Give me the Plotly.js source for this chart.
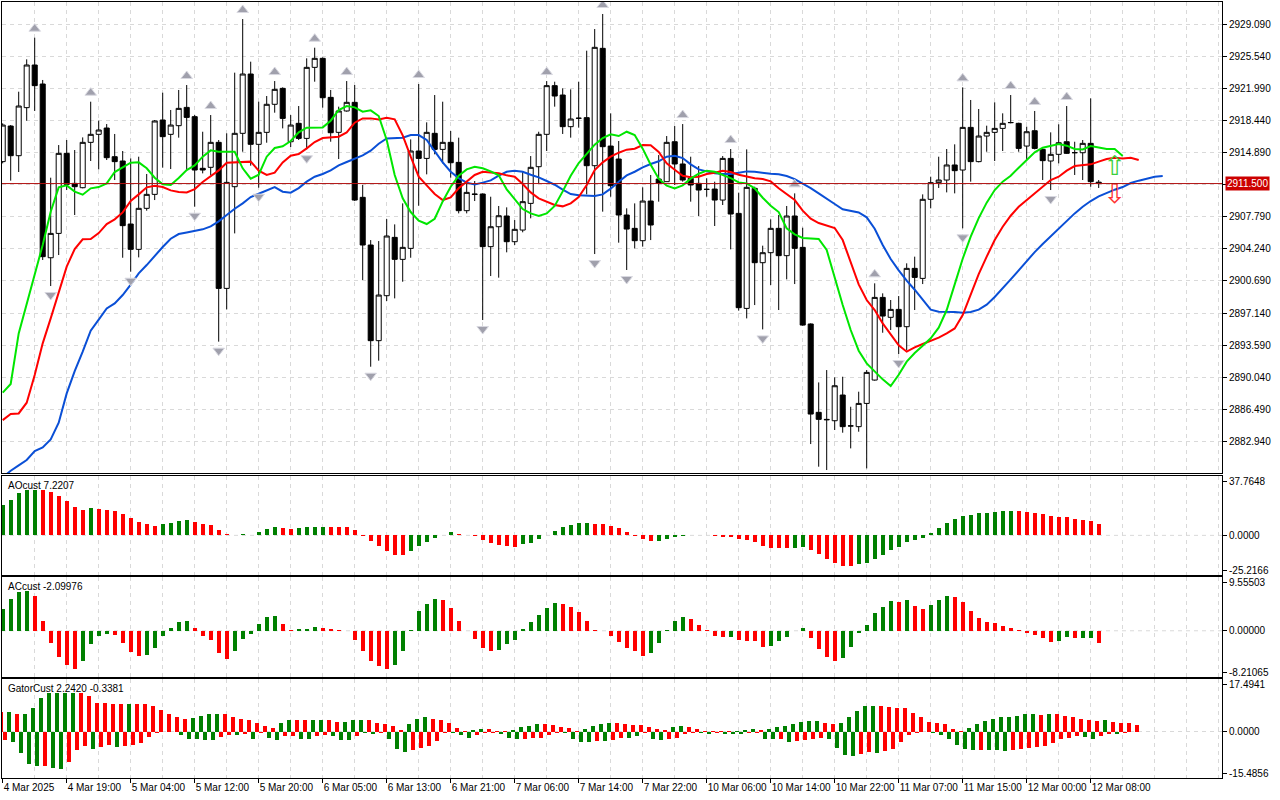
<!DOCTYPE html>
<html><head><meta charset="utf-8">
<script src="https://cdn.plot.ly/plotly-3.0.1.min.js"></script>
<style>html,body{margin:0;padding:0;background:#fff;}#chart{width:1280px;height:800px;}</style>
</head><body><div id="chart"></div>
<script>
// ---------------- DATA (XAUUSD H1) ----------------
const openP = [
2913.93,2917.88,2914.59,2919.92,2924.65,2922.54,2903.27,2905.97,2914.85,2911.52,
2911.04,2916.07,2916.96,2917.66,2914.48,2914.00,2907.01,2904.20,2908.75,2910.30,
2918.55,2916.96,2917.92,2919.95,2918.92,2913.19,2913.30,2916.07,2899.87,2911.15,
2917.07,2923.65,2915.85,2917.18,2920.29,2922.06,2916.14,2918.18,2916.51,2924.39,
2925.39,2921.06,2917.18,2919.55,2920.51,2909.97,2904.68,2894.07,2899.06,2905.53,
2903.09,2904.31,2915.11,2914.29,2917.07,2915.29,2916.07,2913.85,2908.49,2910.34,
2910.34,2904.50,2906.71,2907.90,2905.05,2906.34,2909.30,2913.37,2916.96,2922.36,
2921.32,2917.81,2918.73,2918.81,2913.48,2926.50,2915.66,2914.22,2908.01,2906.53,
2905.16,2909.56,2912.00,2911.71,2916.14,2913.67,2912.08,2911.52,2910.85,2910.89,
2909.67,2914.29,2908.19,2897.65,2910.97,2902.72,2903.83,2906.53,2903.50,2907.90,
2904.42,2895.92,2886.12,2885.34,2885.19,2888.04,2884.60,2884.53,2887.11,2889.70,
2898.87,2896.66,2897.54,2895.62,2902.09,2900.98,2909.75,2911.60,2911.89,2913.56,
2913.00,2917.73,2913.93,2916.77,2917.18,2917.62,2918.25,2918.18,2915.66,2917.36,
2915.29,2914.00,2914.74,2916.14,2914.92,2914.92,2915.96,2911.65];
const highP = [
2918.18,2917.99,2921.69,2925.28,2927.68,2922.99,2912.15,2915.77,2916.33,2915.22,
2916.62,2920.58,2918.47,2918.10,2917.00,2915.11,2914.29,2914.48,2912.56,2918.55,
2921.58,2919.66,2921.88,2922.43,2919.10,2917.25,2919.10,2916.33,2917.07,2923.80,
2929.75,2925.02,2920.58,2921.21,2922.87,2922.17,2919.10,2920.10,2925.39,2926.57,
2925.50,2921.88,2920.03,2922.87,2922.43,2911.34,2905.23,2905.12,2907.56,2906.97,
2909.30,2916.40,2922.54,2918.29,2921.32,2920.58,2917.33,2916.59,2911.60,2911.78,
2910.41,2910.04,2909.01,2908.86,2907.45,2912.89,2914.55,2917.25,2922.87,2922.80,
2922.06,2921.95,2922.80,2926.24,2928.64,2930.31,2919.29,2916.22,2908.75,2909.30,
2911.08,2912.45,2914.66,2916.77,2917.88,2918.10,2914.48,2913.44,2912.08,2911.71,
2914.55,2915.33,2910.49,2915.29,2911.15,2904.61,2907.53,2908.01,2909.01,2910.41,
2906.60,2895.99,2889.44,2890.81,2890.00,2890.07,2886.74,2888.41,2890.81,2900.43,
2899.32,2898.58,2899.02,2902.65,2903.39,2910.30,2912.26,2914.48,2915.33,2915.85,
2922.17,2920.77,2919.77,2917.92,2920.51,2919.29,2921.32,2918.25,2917.81,2919.55,
2915.40,2917.18,2918.07,2920.10,2916.14,2916.33,2920.95,2911.89];
const lowP = [
2913.74,2911.82,2912.78,2918.47,2919.55,2903.02,2900.13,2903.57,2910.78,2908.01,
2910.97,2914.00,2913.07,2914.11,2911.89,2903.27,2901.72,2903.31,2908.49,2909.67,
2913.26,2913.11,2916.59,2913.00,2908.93,2912.63,2912.45,2893.96,2897.54,2905.97,
2915.03,2913.48,2911.04,2916.03,2919.36,2917.62,2915.55,2916.33,2915.30,2922.80,
2919.92,2916.14,2914.22,2919.47,2909.56,2900.80,2891.18,2891.85,2898.47,2898.76,
2900.61,2903.27,2909.04,2912.52,2914.74,2913.74,2912.15,2908.19,2908.19,2909.56,
2896.36,2901.24,2901.06,2903.87,2904.68,2906.09,2907.64,2911.52,2915.11,2920.03,
2917.00,2916.59,2917.70,2910.30,2903.68,2908.38,2910.04,2904.94,2901.91,2904.31,
2904.50,2905.23,2909.49,2911.71,2911.34,2911.71,2909.49,2907.90,2910.04,2906.79,
2909.12,2904.20,2897.40,2896.54,2898.02,2895.32,2900.24,2897.47,2900.87,2900.35,
2895.73,2882.60,2880.09,2879.72,2884.16,2883.86,2882.12,2883.97,2879.90,2889.63,
2894.95,2895.25,2892.59,2893.03,2897.47,2900.35,2908.75,2911.01,2910.52,2910.41,
2906.53,2911.71,2913.85,2915.03,2914.00,2915.11,2918.18,2915.03,2914.11,2915.29,
2911.89,2910.78,2913.74,2914.78,2912.45,2911.89,2911.15,2911.01];
const closeP = [
2917.99,2914.59,2920.10,2924.65,2922.36,2903.39,2905.97,2914.85,2911.41,2911.15,
2916.07,2916.96,2917.44,2914.37,2913.93,2906.83,2904.20,2908.75,2910.30,2918.44,
2916.70,2917.99,2919.84,2918.84,2913.00,2913.00,2916.07,2899.87,2911.63,2917.07,
2923.65,2915.85,2917.18,2920.29,2921.95,2918.73,2917.99,2916.51,2924.39,2925.39,
2921.02,2917.14,2919.55,2920.51,2909.67,2904.68,2894.07,2899.13,2905.68,2903.09,
2904.42,2915.11,2914.29,2917.18,2915.29,2916.07,2913.81,2908.49,2910.52,2910.30,
2904.50,2906.71,2907.93,2905.05,2906.42,2909.49,2913.30,2916.96,2922.36,2921.21,
2917.81,2918.66,2918.75,2913.48,2926.61,2915.59,2911.26,2908.01,2906.45,2905.16,
2909.56,2906.90,2911.52,2916.07,2913.67,2911.89,2911.34,2910.78,2910.86,2909.67,
2914.29,2908.12,2897.73,2911.08,2902.72,2903.83,2906.53,2903.50,2907.90,2904.31,
2895.80,2885.93,2885.34,2885.30,2889.07,2884.53,2884.62,2887.11,2890.55,2898.87,
2896.80,2897.54,2895.62,2902.09,2901.09,2909.75,2911.60,2911.89,2913.56,2912.93,
2917.73,2913.93,2916.77,2917.18,2917.62,2918.18,2918.27,2915.40,2917.25,2915.40,
2914.04,2914.74,2916.03,2914.85,2914.93,2915.96,2911.71,2911.50];

// Alligator lines (values per bar, shifted forward past the last candle)
const lipsGreen = [
2888.30,2889.26,2894.88,2898.21,2901.54,2904.68,2908.38,2911.08,2911.30,2910.60,
2910.26,2910.97,2911.11,2911.52,2912.78,2913.33,2913.81,2913.85,2913.19,2912.15,
2911.41,2911.34,2912.11,2913.00,2913.52,2914.48,2915.18,2915.03,2915.03,2915.03,
2913.19,2912.04,2912.48,2914.48,2915.44,2915.63,2916.22,2917.18,2917.70,2917.70,
2917.73,2918.47,2919.66,2920.10,2919.95,2919.47,2919.62,2918.99,2916.33,2912.45,
2909.86,2908.34,2907.38,2907.01,2907.60,2909.52,2911.15,2912.37,2913.07,2913.37,
2913.19,2912.85,2912.41,2910.86,2909.71,2908.67,2908.19,2907.90,2908.19,2909.01,
2910.63,2912.37,2913.78,2914.85,2915.81,2916.55,2916.96,2916.77,2917.25,2916.88,
2915.37,2913.59,2912.04,2911.26,2910.97,2911.30,2912.04,2912.59,2912.93,2912.81,
2912.48,2912.11,2911.63,2911.52,2910.97,2909.93,2909.04,2908.34,2906.53,2905.86,
2905.46,2905.42,2905.35,2904.13,2900.98,2898.02,2895.25,2892.96,2891.55,2890.66,
2889.78,2889.04,2890.29,2891.74,2892.70,2893.51,2894.33,2895.51,2897.47,2900.32,
2903.16,2905.60,2907.67,2909.38,2910.78,2911.71,2912.37,2913.26,2914.11,2914.96,
2915.48,2915.66,2915.88,2915.70,2915.33,2915.29,2915.66,2915.51,2915.33,2915.33,
2914.55];
const teethRed = [
2885.26,2885.93,2886.00,2887.19,2890.26,2893.77,2896.54,2899.39,2902.28,2904.24,
2905.31,2905.35,2906.01,2907.01,2907.53,2908.30,2909.56,2910.30,2911.08,2911.26,
2911.11,2910.74,2910.56,2910.52,2910.89,2911.67,2912.30,2912.96,2913.81,2913.85,
2913.85,2913.93,2912.93,2912.45,2912.70,2913.85,2914.59,2914.77,2915.40,2916.11,
2916.55,2916.59,2916.70,2917.18,2918.25,2918.73,2918.73,2918.62,2918.81,2918.62,
2916.85,2914.48,2912.26,2911.30,2910.34,2909.67,2909.97,2910.97,2911.71,2912.45,
2912.81,2912.74,2912.63,2912.41,2912.26,2911.45,2910.52,2909.86,2909.49,2909.12,
2908.97,2909.30,2910.00,2911.34,2913.00,2913.85,2914.48,2914.92,2915.26,2915.37,
2915.78,2915.74,2915.00,2913.74,2913.04,2912.37,2912.19,2912.26,2912.56,2912.70,
2912.93,2912.78,2912.48,2912.26,2912.08,2912.00,2911.74,2910.97,2910.34,2909.67,
2908.49,2907.60,2907.12,2906.82,2906.57,2905.23,2902.65,2900.32,2898.58,2897.47,
2895.99,2894.77,2893.55,2892.85,2893.33,2893.70,2894.07,2894.40,2894.88,2895.43,
2896.91,2899.13,2901.46,2903.39,2905.23,2906.71,2907.93,2908.93,2909.67,2910.37,
2911.15,2911.89,2912.26,2912.93,2913.44,2913.56,2913.63,2913.93,2914.22,2914.37,
2914.29,2914.37,2914.11];
const jawBlue = [
2878.90,2879.64,2880.24,2880.83,2881.83,2882.23,2883.12,2884.97,2888.22,2890.70,
2892.85,2895.18,2896.40,2897.65,2898.21,2899.13,2900.28,2901.54,2902.46,2903.50,
2904.46,2905.38,2905.90,2906.08,2906.23,2906.42,2906.75,2907.31,2908.01,2908.71,
2909.30,2910.00,2910.37,2910.78,2911.11,2910.60,2910.49,2911.00,2911.71,2912.26,
2912.56,2912.96,2913.52,2913.89,2914.26,2914.63,2915.15,2915.92,2916.51,2916.51,
2916.59,2916.88,2916.88,2916.33,2915.07,2913.85,2912.81,2912.11,2911.60,2911.41,
2911.60,2911.85,2912.37,2912.81,2912.93,2912.81,2912.48,2912.19,2911.78,2911.37,
2910.82,2910.34,2910.19,2910.12,2910.12,2910.30,2910.93,2911.71,2912.41,2912.81,
2913.30,2913.67,2913.97,2914.48,2914.59,2914.33,2913.63,2913.07,2912.81,2912.63,
2912.56,2912.56,2912.70,2912.85,2912.81,2912.67,2912.59,2912.52,2912.33,2912.00,
2911.52,2911.00,2910.41,2909.78,2909.23,2908.64,2908.49,2908.30,2907.75,2906.49,
2904.68,2903.13,2901.87,2900.72,2899.72,2898.65,2897.51,2897.29,2897.29,2897.25,
2897.17,2897.25,2897.51,2898.06,2898.91,2899.84,2900.87,2901.87,2902.94,2903.90,
2904.79,2905.64,2906.45,2907.38,2908.19,2908.93,2909.56,2910.08,2910.49,2910.82,
2911.11,2911.56,2911.82,2912.00,2912.26,2912.33];

// Fractals (bar numbers)
const fractalUpBars = [4,11,23,26,30,34,39,43,52,68,75,85,91,99,109,120,126,129,133];
const fractalDownBars = [6,16,24,27,32,38,46,60,74,78,95,103,108,112,120,131];

// Signal arrows
const signalUpBar = [139], signalUpPrice = [2913.2];
const signalDownBar = [139], signalDownPrice = [2910.1];

// AO histogram
const aoValues = [
19.3,22.7,27.0,28.9,29.0,28.8,27.6,25.1,21.9,17.8,
16.1,17.4,16.9,16.1,15.4,13.3,10.9,8.4,7.1,5.8,
7.1,7.7,9.0,9.6,8.8,7.5,6.4,3.2,0.6,0.2,
0.6,0.2,1.9,3.9,5.4,4.7,4.1,4.7,5.1,5.4,
5.45,5.3,5.2,5.1,3.4,-0.3,-3.6,-6.9,
-10.1,-12.6,-12.7,-10.1,-6.9,-4.3,-1.7,0.4,1.9,1.1,
0.4,-0.2,-3.0,-4.9,-6.2,-6.9,-7.5,-5.6,-4.9,-2.4,
0.3,2.6,5.4,6.4,7.7,7.8,7.1,7.0,5.8,4.7,
1.9,-0.1,-2.4,-3.6,-3.5,-2.4,-1.1,-0.1,0.3,0.2,
0.0,-0.3,-0.8,-1.0,-2.2,-3.0,
-4.0,-6.9,-8.1,-8.2,-8.3,-8.0,-7.5,-9.4,-12.0,-15.2,
-17.8,-19.7,-19.8,-18.4,-17.8,-15.2,-12.6,-9.4,-7.5,-4.3,
-3.0,-1.5,1.3,4.5,7.7,10.3,12.2,12.9,14.1,14.2,
14.8,15.4,15.5,15.4,14.8,14.1,13.5,12.2,11.6,11.5,
10.3,9.6,9.0,7.2207];
const aoColorRuns = [['G',5],['R',6],['G',1],['R',8],['G',4],['R',6],['G',1],['R',1],['G',3],['R',2],['G',4],['R',10],
  ['G',6],['R',8],['G',9],['R',8],['G',5],['R',12],['G',2],['R',6],['G',20],['R',11]];

// AC histogram
const acValues = [
3.9,5.7,6.9,7.0,6.2,1.75,-2.2,-4.7,-6.0,-6.7,
-5.3,-2.4,-1.0,-0.5,-0.7,-2.2,-3.8,-4.4,-4.35,-3.1,
-1.0,0.5,1.6,1.75,0.5,-1.0,-1.7,-4.0,-5.0,-3.6,
-1.5,-0.6,1.2,2.4,2.65,1.2,0.2,0.35,0.4,0.65,
0.5,0.35,0.1,-0.1,-1.6,-3.6,-5.4,-6.3,
-6.7,-6.0,-3.6,0.2,3.6,4.8,5.7,5.4,4.1,1.75,
-0.1,-1.45,-3.1,-3.6,-3.4,-2.4,-1.6,0.3,1.6,2.8,
4.1,5.0,4.8,4.3,3.4,1.75,0.1,-0.05,-1.0,-2.0,
-3.1,-3.6,-4.5,-4.0,-2.2,0.1,1.75,2.5,2.1,1.0,
0.1,-1.0,-1.15,-1.1,-1.6,-1.8,
-1.8,-2.9,-2.7,-1.8,-1.1,0.05,0.5,-1.3,-3.3,-4.7,
-5.4,-4.9,-2.9,-0.35,1.1,3.1,4.2,5.3,5.2,5.4,
4.35,3.8,4.5,5.4,6.2,6.0,5.1,3.6,2.35,1.6,
1.45,0.9,0.55,0.2,-0.35,-0.7,-1.3,-2.0,-1.8,-1.1,
-1.3,-1.25,-1.2,-2.09976];
const acColorRuns = [['G',4],['R',6],['G',4],['R',4],['G',6],['R',5],['G',6],['R',2],['G',3],['R',9],
  ['G',6],['R',7],['G',8],['R',11],['G',5],['R',5],['G',1],['R',4],['G',5],['R',4],['G',7],['R',1],['G',1],['R',2],['G',3],['R',13],['G',2],['R',1],['G',2],['R',1]];

// Gator oscillator
const gatorUp = [
6.34,6.4,5.68,6.0,8.0,11.0,12.7,12.75,12.8,12.85,
12.7,11.8,9.6,9.35,9.3,9.25,9.3,9.25,9.1,8.5,
7.1,5.8,4.7,4.3,4.55,5.3,5.7,6.0,5.8,4.9,
4.3,4.0,2.7,1.8,1.3,3.0,4.0,3.95,3.75,3.8,
4.0,3.7,3.1,3.15,3.8,4.0,3.7,2.75,
2.65,1.9,0.45,2.45,4.3,4.7,4.3,3.7,3.0,1.3,
0.3,0.65,1.0,0.95,0.3,0.25,0.65,1.65,2.0,2.65,
2.35,2.3,1.65,1.3,0.3,1.0,2.0,2.65,3.0,2.95,
2.65,2.3,2.25,1.65,1.0,0.65,1.65,2.0,1.65,1.0,
0.3,0.25,0.2,0.15,0.25,0.65,1.0,
0.65,1.0,1.65,2.0,2.65,3.3,3.35,3.4,3.0,2.65,
2.7,4.7,6.7,8.35,8.4,8.35,8.3,8.0,7.95,6.3,
5.0,3.3,3.0,2.4,1.0,0.3,1.3,2.65,3.65,4.3,
4.7,5.0,5.3,5.7,5.75,5.65,6.0,5.7,5.3,5.0,
4.3,4.0,3.65,3.7,3.2,2.8,2.75,2.242];
const gatorUpColorRuns = [['R',1],['G',1],['R',1],['G',7],['R',6],['G',1],['R',7],['G',4],['R',7],['G',2],['R',2],['G',2],['R',2],['G',3],['R',5],
  ['G',3],['R',5],['G',2],['R',3],['G',4],['R',5],['G',4],['R',7],['G',2],['R',6],['G',3],
  ['R',1],['G',7],['R',2],['G',5],['R',11],['G',9],['R',1],['G',1],['R',6],['G',1],['R',4]];
const gatorDown = [
-2.9,-3.55,-7.0,-10.9,-11.6,-11.5,-12.2,-12.6,-10.2,-6.2,
-4.9,-5.7,-5.1,-4.6,-5.3,-4.9,-4.55,-3.8,-1.8,-0.45,
-0.15,-0.25,-1.2,-2.55,-2.65,-2.9,-2.95,-1.9,-1.2,-1.25,
-0.9,-2.35,-0.45,-2.1,-2.9,-1.65,-1.45,-2.55,-2.6,-1.55,
-1.2,-1.55,-2.9,-2.95,-1.55,-0.65,-0.9,-0.45,
-2.35,-5.7,-6.9,-6.2,-5.35,-4.7,-3.0,-0.45,-0.5,-1.2,
-2.0,-1.25,-0.65,-0.45,-0.7,-2.0,-2.55,-2.35,-2.3,-2.0,
-1.2,-0.45,-0.5,-2.35,-3.55,-3.6,-3.2,-3.25,-2.9,-2.0,
-2.05,-1.65,-0.45,-2.35,-2.9,-2.55,-2.0,-0.8,-0.45,-0.5,
-0.7,-0.45,-0.7,-0.72,-0.8,-0.45,-0.45,
-2.35,-2.55,-2.5,-3.55,-3.2,-2.9,-2.35,-2.0,-2.35,-5.35,
-7.9,-8.25,-7.55,-6.9,-7.25,-6.55,-5.9,-3.55,-1.2,-0.35,
-0.1,-0.65,-1.2,-2.55,-4.55,-5.9,-6.25,-6.2,-6.25,-6.3,
-6.55,-6.25,-5.9,-5.55,-5.25,-4.9,-3.9,-2.55,-2.0,-1.65,
-1.9,-2.35,-1.65,-0.9,-0.95,-0.3381];
const gatorDownColorRuns = [['R',1],['G',4],['R',1],['G',2],['R',3],['G',1],['R',2],['G',1],['R',6],['G',6],['R',2],['G',1],['R',1],['G',1],['R',1],['G',2],['R',2],['G',2],['R',2],['G',3],['R',1],['G',2],['R',1],
  ['G',3],['R',5],['G',3],['R',3],['G',3],['R',5],['G',4],['R',1],['G',1],['R',2],['G',2],['R',1],['G',2],['R',4],['G',2],['R',1],['G',3],['R',2],
  ['G',2],['R',1],['G',1],['R',4],['G',4],['R',2],['G',1],['R',6],['G',6],['R',1],['G',3],['R',9],['G',2],['R',2],['G',1],['R',1]];

// Axis labels
const timeLabelBars = [0,8,16,24,32,40,48,56,64,72,80,88,96,104,112,120,128,136];
const timeLabels = ['4 Mar 2025','4 Mar 19:00','5 Mar 04:00','5 Mar 12:00','5 Mar 20:00','6 Mar 05:00','6 Mar 13:00','6 Mar 21:00','7 Mar 06:00','7 Mar 14:00','7 Mar 22:00','10 Mar 06:00','10 Mar 14:00','10 Mar 22:00','11 Mar 07:00','11 Mar 15:00','12 Mar 00:00','12 Mar 08:00'];
const priceTicks = [2929.09,2925.54,2921.99,2918.44,2914.89,2911.34,2907.79,2904.24,2900.69,2897.14,2893.59,2890.04,2886.49,2882.94];
const priceRange = [2879.39, 2931.64];
const aoRange = [-25.2166, 37.7648], aoAxisLabels = ['-25.2166','0.0000','37.7648'];
const acRange = [-8.21065, 9.55503], acAxisLabels = ['-8.21065','0.00000','9.55503'];
const gatorRange = [-15.4856, 17.4941], gatorAxisLabels = ['-15.4856','0.0000','17.4941'];
const panelTitles = ['AOcust 7.2207','ACcust -2.09976','GatorCust 2.2420 -0.3381'];

// ---------------- BUILD ----------------
const idx = arr => arr.map((_, i) => i);
const expandRuns = runs => runs.flatMap(([c, n]) => Array(n).fill(c === 'G' ? '#008000' : '#ff0000'));
const W = 1280, H = 800;
const M = {l: 2, r: 58, t: 2, b: 22};
const plotH = H - M.t - M.b;
const plotW = W - M.l - M.r;
const barPx = 8;
const x0 = -0.7 / barPx;
const xRange = [x0, x0 + plotW / barPx];
const domMain = [305 / plotH, 1];
const domAO = [203 / plotH, 302 / plotH];
const domAC = [101 / plotH, 201 / plotH];
const domGator = [0, 99 / plotH];
const grid = '#d9d9d9';
const lastClose = closeP[closeP.length - 1];

function insetTicks(range, dom) {
  const px = (dom[1] - dom[0]) * plotH;
  const u = (range[1] - range[0]) / px;
  return [range[0] + 5 * u, 0, range[1] - 5 * u];
}

const fractalMarker = {size: 10, color: '#a0a0ac', line: {color: '#d8d8e0', width: 1}, standoff: 9};

const traces = [
  {type: 'candlestick', x: idx(closeP), open: openP, high: highP, low: lowP, close: closeP,
   xaxis: 'x', yaxis: 'y', whiskerwidth: 0, hoverinfo: 'skip',
   increasing: {line: {color: '#000', width: 1}, fillcolor: '#ffffff'},
   decreasing: {line: {color: '#000', width: 1}, fillcolor: '#000000'}},
  {type: 'scatter', mode: 'lines', x: idx(jawBlue), y: jawBlue, xaxis: 'x', yaxis: 'y',
   line: {color: '#0a4fd6', width: 2}, hoverinfo: 'skip'},
  {type: 'scatter', mode: 'lines', x: idx(teethRed), y: teethRed, xaxis: 'x', yaxis: 'y',
   line: {color: '#ff0000', width: 2}, hoverinfo: 'skip'},
  {type: 'scatter', mode: 'lines', x: idx(lipsGreen), y: lipsGreen, xaxis: 'x', yaxis: 'y',
   line: {color: '#00e600', width: 2}, hoverinfo: 'skip'},
  {type: 'scatter', mode: 'markers', x: fractalUpBars, y: fractalUpBars.map(k => highP[k]), xaxis: 'x', yaxis: 'y',
   marker: Object.assign({symbol: 'triangle-down', angle: 180}, fractalMarker), hoverinfo: 'skip'},
  {type: 'scatter', mode: 'markers', x: fractalDownBars, y: fractalDownBars.map(k => lowP[k]), xaxis: 'x', yaxis: 'y',
   marker: Object.assign({symbol: 'triangle-down', angle: 0}, fractalMarker), hoverinfo: 'skip'},
  {type: 'scatter', mode: 'text', x: signalUpBar, y: signalUpPrice, text: ['⇧'], xaxis: 'x', yaxis: 'y',
   textfont: {family: 'DejaVu Sans', size: 27, color: '#3ccf3c'}, textposition: 'middle center', hoverinfo: 'skip'},
  {type: 'scatter', mode: 'text', x: signalDownBar, y: signalDownPrice, text: ['⇩'], xaxis: 'x', yaxis: 'y',
   textfont: {family: 'DejaVu Sans', size: 27, color: '#ff3030'}, textposition: 'middle center', hoverinfo: 'skip'},
  {type: 'bar', x: idx(aoValues), y: aoValues, xaxis: 'x2', yaxis: 'y2', width: 0.55,
   marker: {color: expandRuns(aoColorRuns), line: {width: 0}}, hoverinfo: 'skip'},
  {type: 'bar', x: idx(acValues), y: acValues, xaxis: 'x3', yaxis: 'y3', width: 0.55,
   marker: {color: expandRuns(acColorRuns), line: {width: 0}}, hoverinfo: 'skip'},
  {type: 'bar', x: idx(gatorUp), y: gatorUp, xaxis: 'x4', yaxis: 'y4', width: 0.55,
   marker: {color: expandRuns(gatorUpColorRuns), line: {width: 0}}, hoverinfo: 'skip'},
  {type: 'bar', x: idx(gatorDown), y: gatorDown, xaxis: 'x4', yaxis: 'y4', width: 0.55,
   marker: {color: expandRuns(gatorDownColorRuns), line: {width: 0}}, hoverinfo: 'skip'}
];

function xAxis(anchor, labels) {
  return {
    domain: [0, 1], anchor: anchor, range: xRange, matches: anchor === 'y' ? undefined : 'x',
    tickmode: 'array', tickvals: timeLabelBars, ticktext: timeLabels, tickangle: 0,
    showticklabels: labels, ticks: labels ? 'outside' : '', ticklen: 4, tickcolor: '#000',
    ticklabelposition: 'outside right', tickfont: {size: 10, color: '#000'},
    showgrid: true, gridcolor: grid, griddash: '4px,4px', gridwidth: 1,
    minor: {tickmode: 'linear', tick0: 0, dtick: 4, showgrid: true, gridcolor: grid, griddash: '4px,4px', ticks: ''},
    showline: true, mirror: true, linecolor: '#000', linewidth: 1, zeroline: false,
    rangeslider: {visible: false}, fixedrange: true, automargin: false
  };
}
function yAxis(dom, range, tickvals, ticktext, gridOn) {
  return {
    domain: dom, range: range, side: 'right', anchor: 'x',
    tickmode: 'array', tickvals: tickvals, ticktext: ticktext,
    ticks: 'outside', ticklen: 4, tickcolor: '#000', tickfont: {size: 10, color: '#000'},
    showgrid: gridOn, gridcolor: grid, griddash: '4px,4px',
    showline: true, mirror: true, linecolor: '#000', linewidth: 1, zeroline: false,
    fixedrange: true, automargin: false
  };
}

const priceText = priceTicks.map(v => Math.abs(v - lastClose) < 0.5 ? '' : v.toFixed(3));
const yMain = yAxis(domMain, priceRange, priceTicks, priceText, true);
const yAO = yAxis(domAO, aoRange, insetTicks(aoRange, domAO), aoAxisLabels, false); yAO.anchor = 'x2';
const yAC = yAxis(domAC, acRange, insetTicks(acRange, domAC), acAxisLabels, false); yAC.anchor = 'x3';
const yGt = yAxis(domGator, gatorRange, insetTicks(gatorRange, domGator), gatorAxisLabels, false); yGt.anchor = 'x4';

const zeroLine = yref => ({type: 'line', xref: 'paper', x0: 0, x1: 1, yref: yref, y0: 0, y1: 0,
  line: {color: grid, width: 1, dash: '4px,4px'}, layer: 'below'});

const layout = {
  width: W, height: H, margin: M,
  paper_bgcolor: '#ffffff', plot_bgcolor: '#ffffff',
  showlegend: false, hovermode: false, dragmode: false,
  font: {family: 'Liberation Sans, Arial, sans-serif', size: 10, color: '#000'},
  boxgap: 0.37, boxgroupgap: 0, bargap: 0,
  xaxis: xAxis('y', false), xaxis2: xAxis('y2', false), xaxis3: xAxis('y3', false), xaxis4: xAxis('y4', true),
  yaxis: yMain, yaxis2: yAO, yaxis3: yAC, yaxis4: yGt,
  shapes: [
    {type: 'line', xref: 'paper', x0: 0, x1: 1, yref: 'y', y0: lastClose, y1: lastClose, line: {color: '#b01010', width: 1}},
    zeroLine('y2'), zeroLine('y3'), zeroLine('y4')
  ],
  annotations: [
    {xref: 'paper', x: 1, xanchor: 'left', xshift: 3, yref: 'y', y: lastClose, yanchor: 'middle',
     text: lastClose.toFixed(3), showarrow: false, bgcolor: '#cc0000', borderpad: 1,
     font: {color: '#ffffff', size: 10}},
    {xref: 'paper', yref: 'paper', x: 0, y: domAO[1], xanchor: 'left', yanchor: 'top', xshift: 4, yshift: -2,
     text: panelTitles[0], showarrow: false, font: {size: 10}},
    {xref: 'paper', yref: 'paper', x: 0, y: domAC[1], xanchor: 'left', yanchor: 'top', xshift: 4, yshift: -2,
     text: panelTitles[1], showarrow: false, font: {size: 10}},
    {xref: 'paper', yref: 'paper', x: 0, y: domGator[1], xanchor: 'left', yanchor: 'top', xshift: 4, yshift: -2,
     text: panelTitles[2], showarrow: false, font: {size: 10}}
  ]
};

Plotly.newPlot('chart', traces, layout, {displayModeBar: false, staticPlot: true});
</script>
</body></html>
